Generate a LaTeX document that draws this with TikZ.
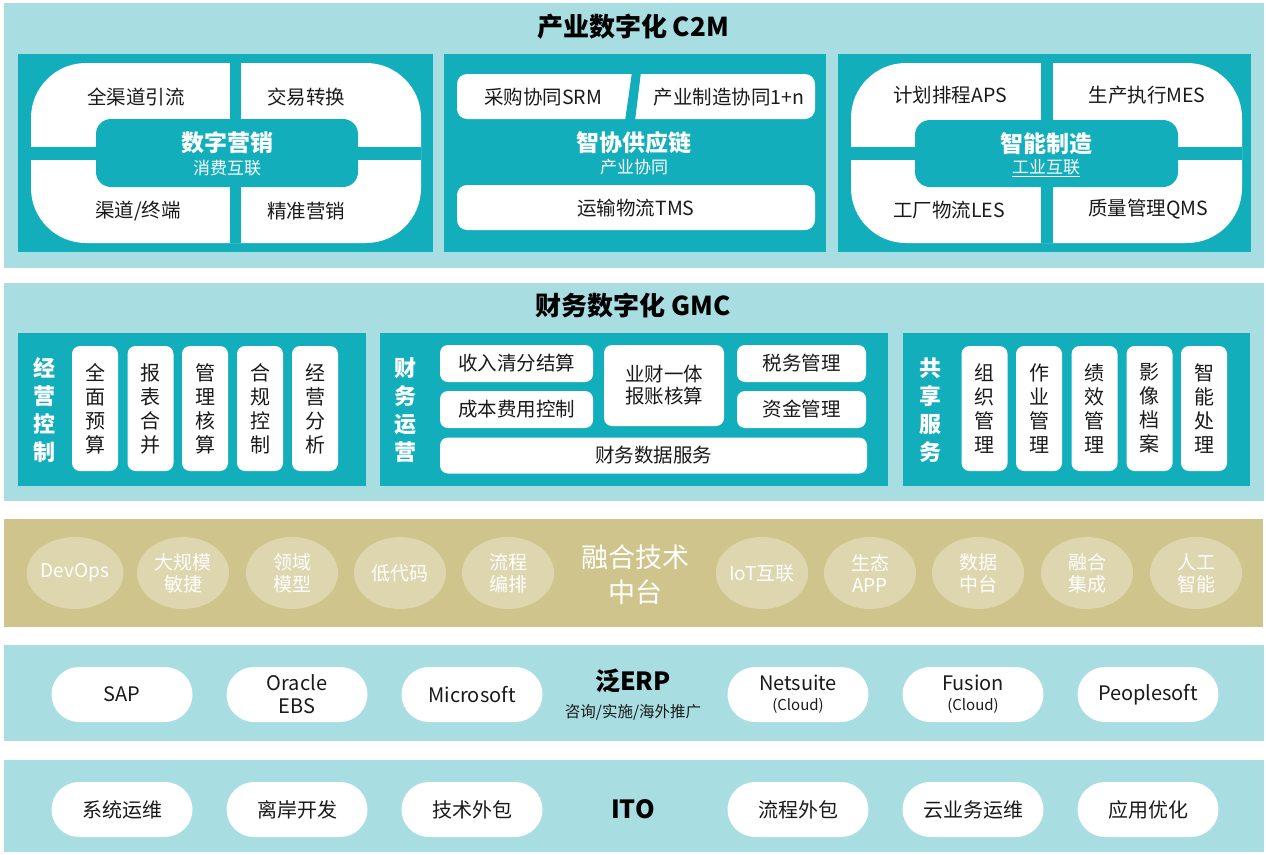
\documentclass[tikz,border=0pt]{standalone}
\usepackage{fontspec}
\setmainfont{Noto Sans CJK SC}
\usetikzlibrary{shapes.geometric}
\definecolor{bandc}{HTML}{A8DDE2}
\definecolor{tealc}{HTML}{13AEBB}
\definecolor{goldc}{HTML}{CFC48B}
\definecolor{goldl}{HTML}{DDD6AF}
\definecolor{txt}{HTML}{1A1A1A}
\begin{document}
\begin{tikzpicture}[x=1pt,y=-1pt,
  lab/.style={text=txt, font=\fontsize{19.5}{23}\selectfont, inner sep=0pt},
  wbox/.style={fill=white, rounded corners=8pt, text=txt, font=\fontsize{19.5}{23}\selectfont, inner sep=0pt, align=center},
  vbox/.style={wbox, minimum width=46pt, minimum height=125pt, font=\fontsize{20}{24}\selectfont},
  hlab/.style={text=white, font=\fontsize{22}{28}\selectfont\bfseries, align=center, inner sep=0pt},
  big/.style={text=white, font=\fontsize{23}{26}\selectfont\bfseries, inner sep=0pt},
  sub/.style={text=white, font=\fontsize{17}{20}\selectfont, inner sep=0pt},
  ttl/.style={text=black, font=\fontsize{26}{30}\selectfont\bfseries, inner sep=0pt},
  oval/.style={ellipse, fill=goldl, minimum width=92pt, minimum height=72pt, inner sep=0pt, text=white, font=\fontsize{19}{22}\selectfont, align=center},
  pill/.style={fill=white, rounded corners=27.5pt, minimum width=141pt, minimum height=55pt, inner sep=0pt, text=txt, font=\fontsize{20}{23}\selectfont, align=center}
]
\useasboundingbox (0,0) rectangle (1266,854);
\fill[white] (0,0) rectangle (1266,854);

% ---------------- Band 1: C2M
\fill[bandc] (4,3) rectangle (1264,268);
\node[ttl] (t1) at (633,27) {产业数字化 C2M};

% panel 1
\fill[tealc] (18,54) rectangle (433,252);
\fill[white, rounded corners=55pt] (31,63) rectangle (421,243);
\fill[tealc] (230,63) rectangle (241,243);
\fill[tealc] (31,147) rectangle (421,160);
\fill[tealc, rounded corners=15pt] (96,119) rectangle (358,187);
\node[lab] (p1a) at (136,97) {全渠道引流};
\node[lab] (p1b) at (306,97) {交易转换};
\node[lab] (p1c) at (138,211) {渠道/终端};
\node[lab] (p1d) at (306,211) {精准营销};
\node[big] (p1t) at (227,143) {数字营销};
\node[sub] (p1s) at (227,168) {消费互联};

% panel 2
\fill[tealc] (444,54) rectangle (826,252);
\fill[white, rounded corners=10pt] (457,74) rectangle (815,119);
\fill[tealc] (632,72) -- (641,72) -- (635,121) -- (625,121) -- cycle;
\fill[white, rounded corners=10pt] (457,185) rectangle (815,230);
\node[lab] (p2a) at (543,97) {采购协同SRM};
\node[lab] (p2b) at (729,97) {产业制造协同1+n};
\node[big] (p2t) at (634,143) {智协供应链};
\node[sub] (p2s) at (634,167) {产业协同};
\node[lab] (p2c) at (636,208) {运输物流TMS};

% panel 3
\fill[tealc] (838,54) rectangle (1251,252);
\fill[white, rounded corners=55pt] (851,63) rectangle (1242,243);
\fill[tealc] (1041,63) rectangle (1053,243);
\fill[tealc] (851,147) rectangle (1242,160);
\fill[tealc, rounded corners=15pt] (915,120) rectangle (1178,187);
\node[lab] (p3a) at (950,95) {计划排程APS};
\node[lab] (p3b) at (1147,95) {生产执行MES};
\node[lab] (p3c) at (949,210) {工厂物流LES};
\node[lab] (p3d) at (1148,209) {质量管理QMS};
\node[big] (p3t) at (1046,144) {智能制造};
\node[sub] (p3s) at (1046,168) {\underline{工业互联}};

% ---------------- Band 2: GMC
\fill[bandc] (4,283) rectangle (1264,501);
\node[ttl] (t2) at (633,306) {财务数字化 GMC};

% panel A
\fill[tealc] (18,333) rectangle (366,486);
\node[hlab] (aL) at (44,410) {经\\营\\控\\制};
\node[vbox] (a1) at (95,408.5) {全\\面\\预\\算};
\node[vbox] (a2) at (150.5,408.5) {报\\表\\合\\并};
\node[vbox] (a3) at (205,408.5) {管\\理\\核\\算};
\node[vbox] (a4) at (260,408.5) {合\\规\\控\\制};
\node[vbox] (a5) at (315,408.5) {经\\营\\分\\析};

% panel B
\fill[tealc] (380,333) rectangle (888,486);
\node[hlab] (bL) at (405,410) {财\\务\\运\\营};
\node[wbox, minimum width=153pt, minimum height=37pt] (b1) at (516.5,363.5) {收入清分结算};
\node[wbox, minimum width=153pt, minimum height=37pt] (b2) at (516.5,409.5) {成本费用控制};
\node[wbox, minimum width=120pt, minimum height=81pt, font=\fontsize{19.5}{22}\selectfont] (b3) at (664,385.5) {业财一体\\报账核算};
\node[wbox, minimum width=129pt, minimum height=37pt] (b4) at (801.5,363.5) {税务管理};
\node[wbox, minimum width=129pt, minimum height=37pt] (b5) at (801.5,409.5) {资金管理};
\node[wbox, minimum width=427pt, minimum height=36pt] (b6) at (653.5,455.5) {财务数据服务};

% panel C
\fill[tealc] (903,333) rectangle (1250,486);
\node[hlab] (cL) at (930,410) {共\\享\\服\\务};
\node[vbox] (c1) at (984.5,408.5) {组\\织\\管\\理};
\node[vbox] (c2) at (1039,408.5) {作\\业\\管\\理};
\node[vbox] (c3) at (1094.5,408.5) {绩\\效\\管\\理};
\node[vbox] (c4) at (1149.5,408.5) {影\\像\\档\\案};
\node[vbox] (c5) at (1204,408.5) {智\\能\\处\\理};

% ---------------- Band 3: tech
\fill[goldc] (4,519) rectangle (1263,627);
\node[oval] (g1) at (75,573) {DevOps};
\node[oval] (g2) at (183,573) {大规模\\敏捷};
\node[oval] (g3) at (292,573) {领域\\模型};
\node[oval] (g4) at (400,573) {低代码};
\node[oval] (g5) at (508,573) {流程\\编排};
\node[text=white, font=\fontsize{27}{35}\selectfont, align=center, inner sep=0pt] (gT) at (635,574.5) {融合技术\\中台};
\node[oval] (g6) at (762,573) {IoT互联};
\node[oval] (g7) at (870,573) {生态\\APP};
\node[oval] (g8) at (978,573) {数据\\中台};
\node[oval] (g9) at (1087,573) {融合\\集成};
\node[oval] (g10) at (1196,573) {人工\\智能};

% ---------------- Band 4: ERP
\fill[bandc] (4,645) rectangle (1264,741);
\node[pill] (e1) at (122,694.5) {SAP};
\node[pill] (e2) at (297,694.5) {Oracle\\EBS};
\node[pill] (e3) at (472,694.5) {Microsoft};
\node[text=black, font=\fontsize{25}{28}\selectfont\bfseries, inner sep=0pt] (eT) at (633,681) {泛ERP};
\node[text=txt, font=\fontsize{15.5}{18}\selectfont, inner sep=0pt] (eS) at (633,712) {咨询/实施/海外推广};
\node[pill] (e4) at (798,694.5) {Netsuite\\[-3pt]{\fontsize{15}{17}\selectfont (Cloud)}};
\node[pill] (e5) at (973,694.5) {Fusion\\[-3pt]{\fontsize{15}{17}\selectfont (Cloud)}};
\node[pill] (e6) at (1148,694.5) {Peoplesoft};

% ---------------- Band 5: ITO
\fill[bandc] (4,760) rectangle (1264,852);
\node[pill] (i1) at (122,809.5) {系统运维};
\node[pill] (i2) at (297,809.5) {离岸开发};
\node[pill] (i3) at (472,809.5) {技术外包};
\node[text=black, font=\fontsize{25}{28}\selectfont\bfseries, inner sep=0pt] (iT) at (633,809) {ITO};
\node[pill] (i4) at (798,809.5) {流程外包};
\node[pill] (i5) at (973,809.5) {云业务运维};
\node[pill] (i6) at (1148,809.5) {应用优化};
\end{tikzpicture}
\end{document}
